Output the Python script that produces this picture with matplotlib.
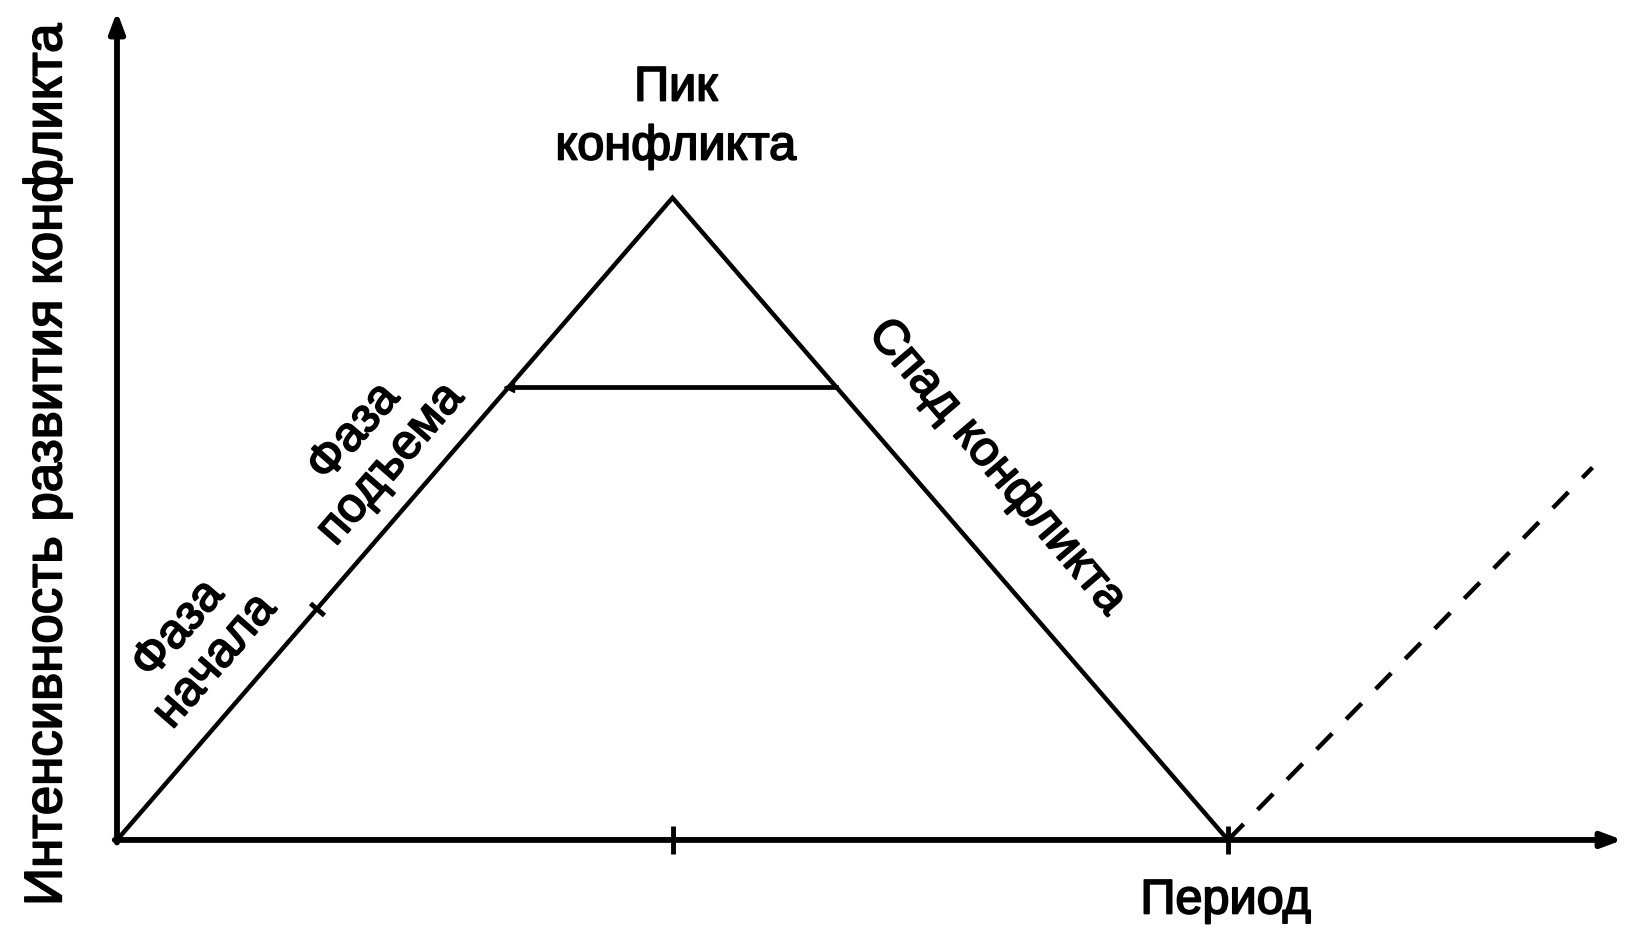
import numpy as np
import matplotlib
matplotlib.use('Agg')
import matplotlib.pyplot as plt
import matplotlib.patheffects as pe
from matplotlib.markers import MarkerStyle
from matplotlib.transforms import Affine2D

# схема развития конфликта (условные единицы)
curve_x = [0, 5, 10]          # начало, пик, конец
curve_y = [0, 10, 0]
plateau_y = 7.05              # уровень горизонтальной линии у вершины
rise_tick_x = 1.8             # граница фазы начала / фазы подъема
axis_ticks_x = [5, 10]
recur_x = [10, 13.28]         # повторный конфликт (пунктир)
recur_y = [0, 5.8]

plt.rcParams['font.family'] = ['Liberation Sans', 'DejaVu Sans']

fig = plt.figure(figsize=(16.31, 9.40), dpi=100)
ax = fig.add_axes([0, 0, 1, 1])
ax.set_xlim(-1.053, 13.627)
ax.set_ylim(-1.558, 13.08)
ax.axis('off')

# оси со стрелками
ax.annotate('', xy=(13.55, 0), xytext=(-0.02, 0),
            arrowprops=dict(arrowstyle='-|>,head_length=1.2,head_width=0.45',
                            color='black', lw=4.2, shrinkA=0, shrinkB=0))
ax.annotate('', xy=(0, 12.9), xytext=(0, -0.04),
            arrowprops=dict(arrowstyle='-|>,head_length=1.2,head_width=0.45',
                            color='black', lw=4.2, shrinkA=0, shrinkB=0))

# треугольник
ax.plot(curve_x, curve_y, color='black', lw=3.2, solid_joinstyle='miter')

# горизонтальная линия у вершины
left_x = np.interp(plateau_y, curve_y[:2], curve_x[:2])
right_x = np.interp(plateau_y, curve_y[:0:-1], curve_x[:0:-1])
ax.plot([left_x, right_x], [plateau_y, plateau_y], color='black', lw=3.4)

# пунктир
ax.plot(recur_x, recur_y, color='black', lw=3.2, dashes=(5, 4.5))

# засечки
ax.plot(axis_ticks_x, [0] * len(axis_ticks_x), ls='none', color='black',
        marker='|', markersize=20, markeredgewidth=3.5)
rise_tick_y = np.interp(rise_tick_x, curve_x[:2], curve_y[:2])
tick_marker = MarkerStyle('|', transform=Affine2D().rotate_deg(49))
ax.plot([rise_tick_x], [rise_tick_y], ls='none', color='black',
        marker=tick_marker, markersize=14, markeredgewidth=3.5)
ax.plot([left_x], [plateau_y], ls='none', color='black',
        marker='<', markersize=7)

fs = 35
heavy = [pe.withStroke(linewidth=1.3, foreground='black')]
kw = dict(ha='center', va='center', fontsize=fs, path_effects=heavy)
ax.text(5.03, 11.25, 'Пик\nконфликта', linespacing=1.4, **kw)
ax.text(0.72, 3.03, 'Фаза\nначала', rotation=49, linespacing=1.1, **kw)
ax.text(2.3, 6.1, 'Фаза\nподъема', rotation=49, linespacing=1.1, **kw)
ax.text(7.92, 5.8, 'Спад конфликта', rotation=-49.6, **kw)
ax.text(9.98, -0.95, 'Период', **kw)
kw['fontsize'] = 38
ax.text(-0.63, 5.83, 'Интенсивность развития конфликта', rotation=90, **kw)

fig.savefig('out.png', dpi=100)
